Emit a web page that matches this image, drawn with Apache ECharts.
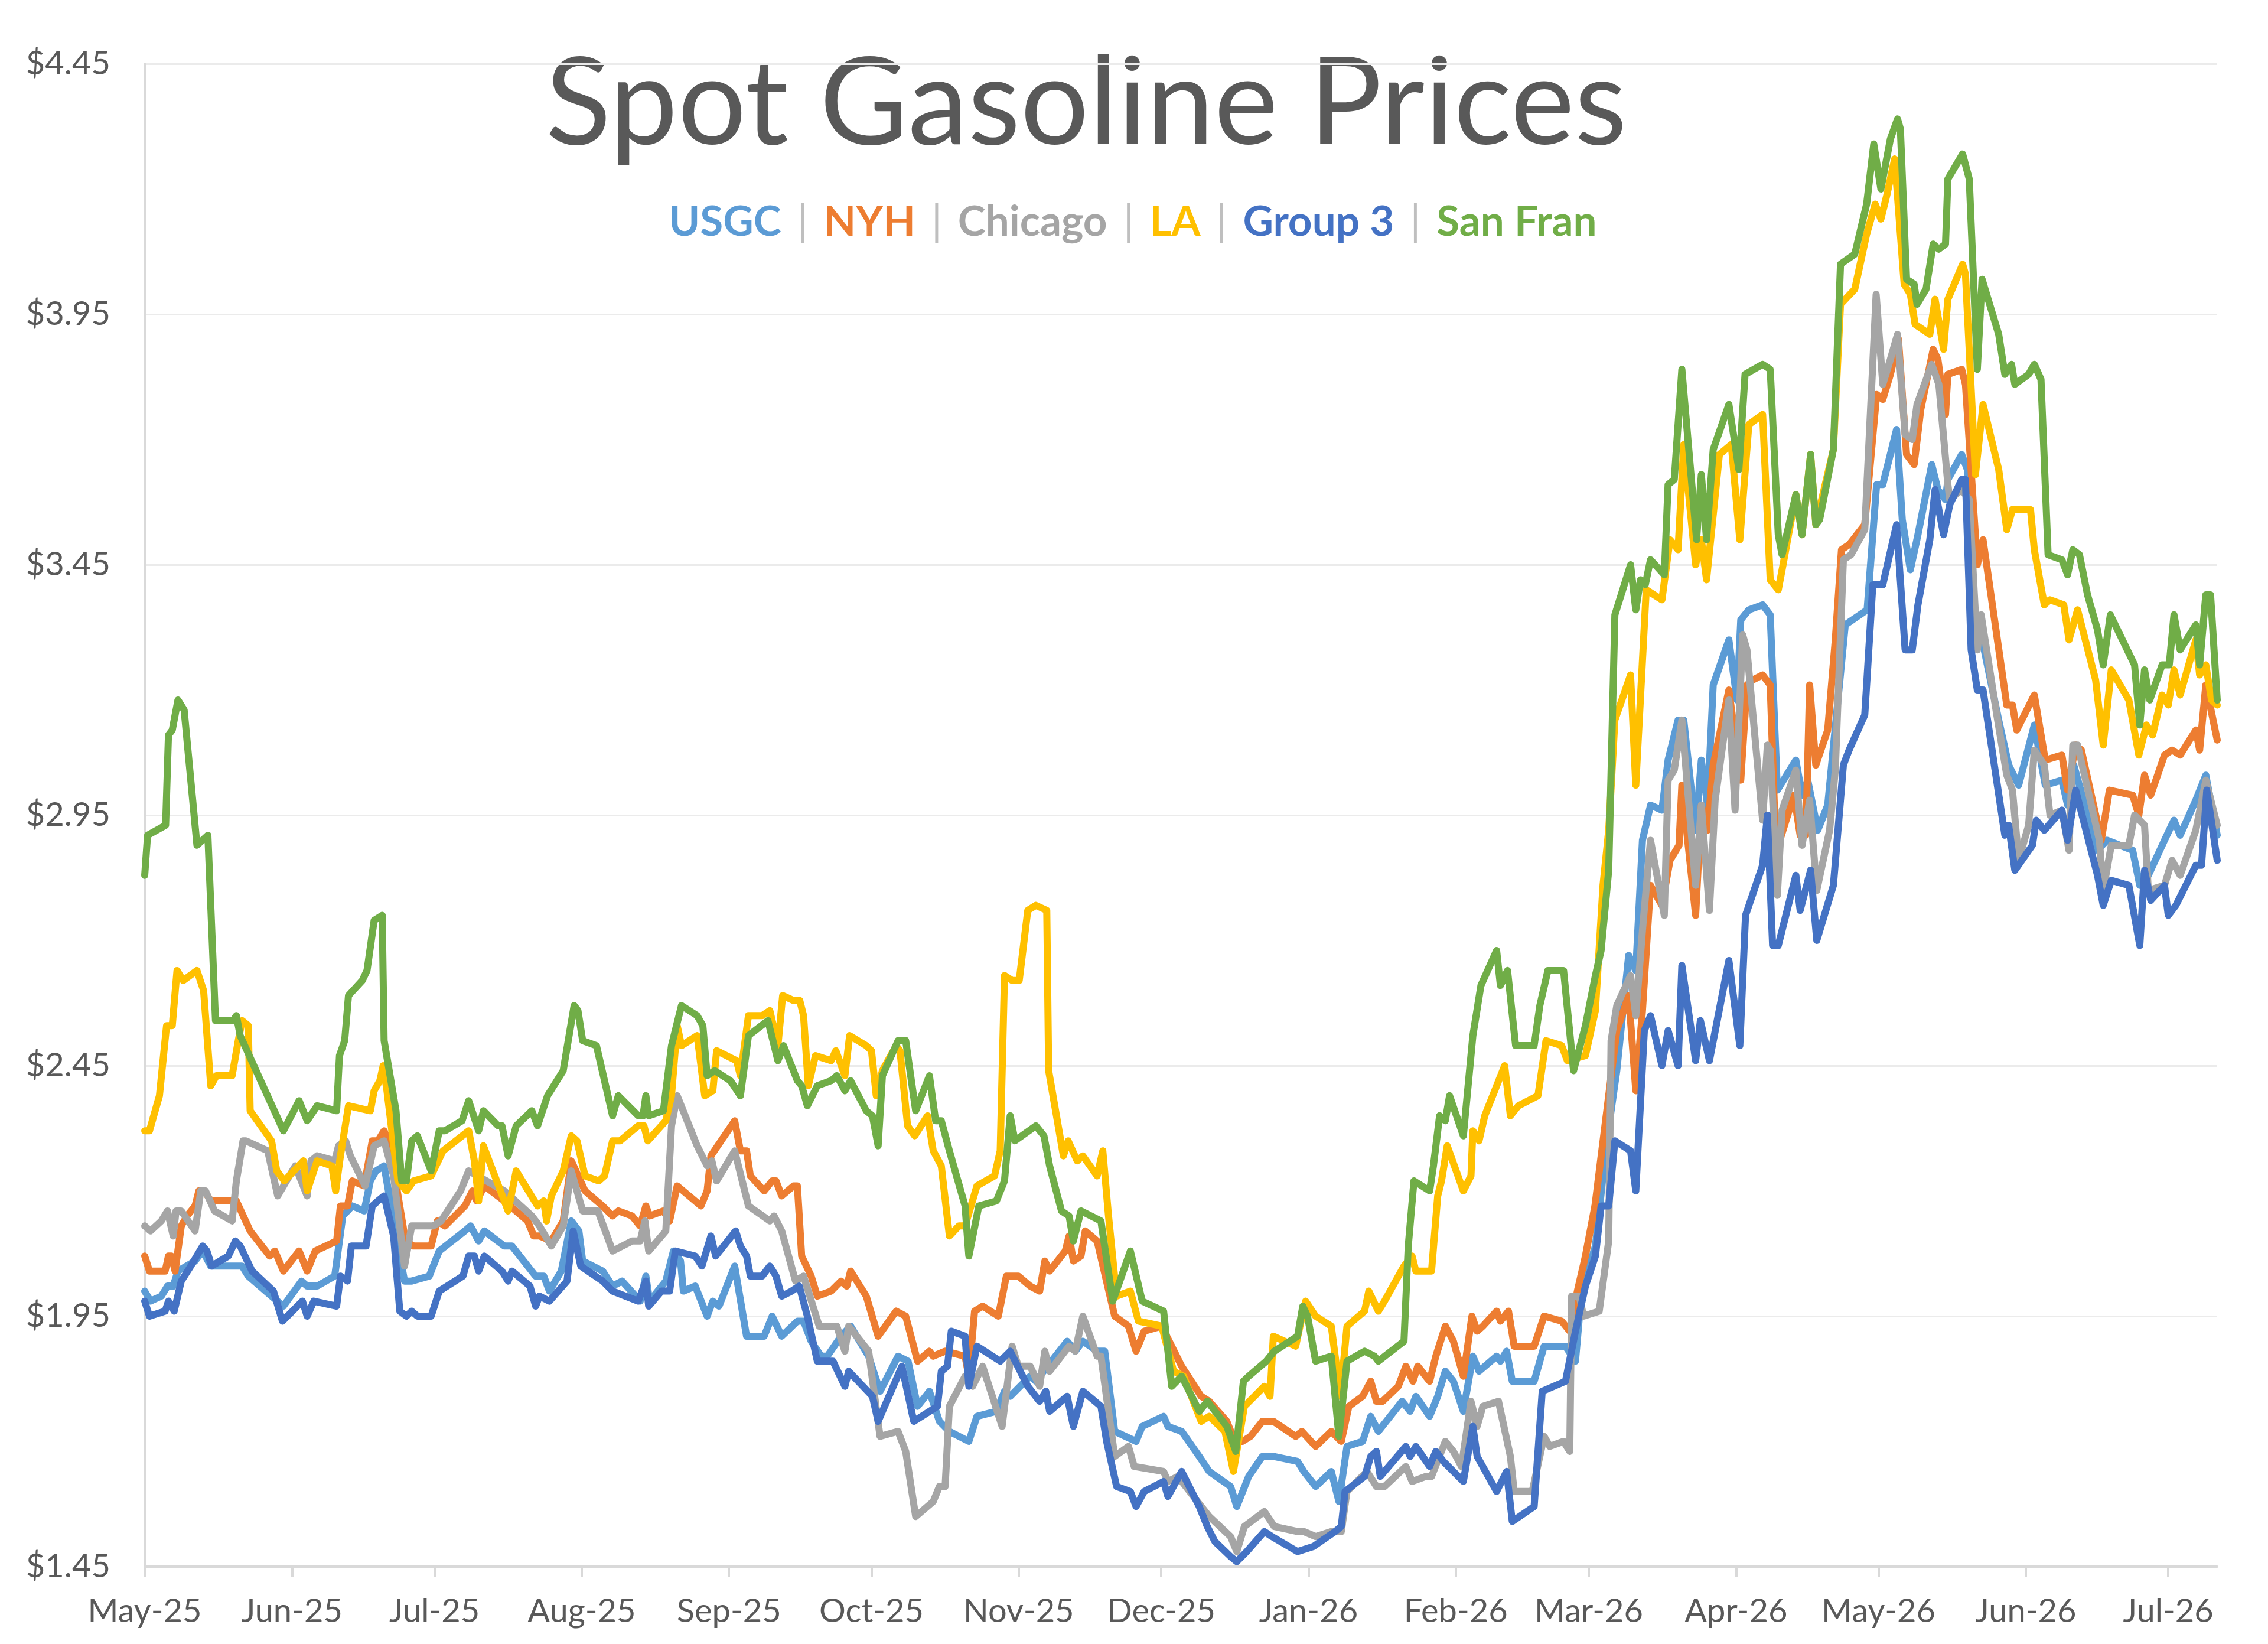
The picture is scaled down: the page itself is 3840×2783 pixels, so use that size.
<!DOCTYPE html>
<html>
<head>
    <meta charset="utf-8">
    <title>Spot Gasoline Prices</title>
    <script src="https://cdn.jsdelivr.net/npm/echarts@6/dist/echarts.min.js"></script>
    <style>
        html, body { margin: 0; padding: 0; background: #fff; }
        #main { width: 3840px; height: 2783px; }
    </style>
</head>
<body>
<div id="main"></div>
<script type="text/javascript">
    // x = days counted from 1 May 2025, y = $/gal
    var monthLabels = ['May-25', 'Jun-25', 'Jul-25', 'Aug-25', 'Sep-25', 'Oct-25', 'Nov-25', 'Dec-25',
        'Jan-26', 'Feb-26', 'Mar-26', 'Apr-26', 'May-26', 'Jun-26', 'Jul-26'];
    var yTicks = [1.45, 1.95, 2.45, 2.95, 3.45, 3.95, 4.45];
    var lastDay = 436.3;

    var usgc = [[0,2.00],[1.2,1.98],[3.5,1.99],[4.8,2.01],[6,2.01],[7,2.04],[10.6,2.06],[12.2,2.08],[13.9,2.05],[20.5,2.05],[21.8,2.03],[26.7,1.99],[29.2,1.97],[33,2.02],[34.2,2.01],[36.3,2.01],[40,2.03],[41.7,2.15],[43.7,2.17],
        [46.2,2.16],[47.5,2.22],[48.7,2.24],[50.4,2.25],[52.4,2.14],[54.7,2.02],[56.2,2.02],[59.9,2.03],[62,2.08],[67.4,2.12],[68.6,2.13],[70.3,2.10],[71.5,2.12],[75.7,2.09],[77.3,2.09],[82.3,2.03],[84,2.03],[85.2,2.00],[87.7,2.04],[89.8,2.14],
        [91.4,2.12],[92.2,2.06],[96.4,2.04],[98.5,2.01],[100.5,2.02],[104.3,1.98],[105.5,2.03],[106.3,1.98],[109.7,2.02],[111.3,2.08],[112.8,2.06],[113.4,2.00],[115.9,2.01],[118.4,1.95],[119.6,1.98],[120.9,1.97],[124.2,2.05],[126.7,1.91],[130.4,1.91],[132.1,1.95],[134.1,1.91],[137.4,1.94],
        [138.7,1.94],[140.3,1.90],[142.4,1.87],[143.7,1.87],[146.6,1.91],[148.6,1.93],[152.4,1.87],[154.8,1.80],[158.6,1.87],[160.7,1.86],[162.7,1.77],[165.2,1.80],[167.3,1.74],[169.4,1.72],[173.5,1.70],[175.2,1.75],[179.3,1.76],[181,1.80],
        [182.2,1.79],[186.4,1.83],[187.6,1.82],[194.2,1.90],[195.9,1.88],[197.5,1.90],[200.5,1.88],[202.1,1.88],[204.2,1.72],[208.7,1.70],[210,1.73],[214.5,1.75],[215.4,1.73],[218.3,1.72],[222,1.67],[224.1,1.64],[228.6,1.61],
        [229.9,1.57],[232.4,1.63],[235.3,1.67],[237.6,1.67],[242.7,1.66],[244,1.64],[246.5,1.61],[249.8,1.64],[251.4,1.58],[253.1,1.69],[256.4,1.70],[258.1,1.75],[259.7,1.72],[264.7,1.78],[266.4,1.76],[267.6,1.79],[270.5,1.75],[272.2,1.79],[273.8,1.84],
        [275.5,1.82],[277.6,1.76],[279.6,1.87],[280.9,1.84],[284.6,1.87],[285.4,1.86],[286.7,1.88],[287.9,1.82],[292.5,1.82],[294.6,1.89],[299.1,1.89],[301.2,1.86],[302.5,2.00],[305.4,2.09],[307.8,2.30],
        [309.9,2.44],[312.4,2.67],[313.9,2.64],[315.3,2.90],[317,2.97],[319.4,2.96],[320.7,3.06],[322.8,3.14],[324,3.14],[326.5,2.92],[327.7,3.06],[329,2.97],[330.2,3.21],[333.5,3.30],[335.2,3.18],[336,3.34],[337.7,3.36],
        [340.6,3.37],[342.2,3.35],[343.7,3.00],[347.6,3.06],[348.9,2.99],[350.1,3.02],[352.2,2.92],[354.3,2.97],[358,3.33],[362.6,3.36],[364.6,3.61],[365.9,3.61],
        [368.8,3.72],[370,3.54],[371.7,3.44],[373.3,3.51],[376.2,3.65],[377.5,3.60],[379.1,3.58],[379.6,3.62],[382.5,3.67],[383.7,3.64],[384.9,3.36],[386.6,3.31],[390.3,3.14],[392.4,3.05],[394.5,3.01],[397.8,3.13],[400.1,3.01],
        [403.6,3.02],[404.8,2.97],[406.1,3.05],[411.1,2.88],[413.1,2.90],[418.5,2.88],[420,2.81],[421.8,2.83],[425.2,2.90],[427.2,2.94],[428.5,2.91],[431.8,2.98],[433.9,3.03],[436.3,2.91]];

    var nyh = [[0,2.07],[1,2.04],[4.3,2.04],[5,2.07],[5.6,2.07],[6.4,2.04],[7.7,2.13],[8.9,2.15],[10.6,2.17],[11.4,2.20],[12.6,2.20],[13.9,2.18],[19.3,2.18],[22.2,2.12],[26.3,2.07],[27.4,2.08],[29.2,2.04],[32.5,2.08],[34.2,2.04],[35.9,2.08],[40.4,2.10],[41.2,2.17],[42.7,2.17],[43.7,2.22],
        [46.2,2.21],[47.9,2.30],[49.1,2.30],[50.4,2.32],[51.6,2.29],[54.9,2.10],[56.6,2.09],[60.3,2.09],[61.6,2.14],[63.2,2.13],[67.4,2.17],[69,2.20],[69.9,2.18],[71.5,2.21],[75.7,2.18],[80.6,2.14],[81.9,2.11],[83.1,2.11],[85.6,2.10],[88.1,2.14],[89.8,2.26],
        [92.7,2.20],[96.4,2.17],[98.5,2.15],[99.7,2.16],[102.6,2.15],[104.3,2.13],[105.5,2.17],[106.3,2.15],[109.2,2.16],[110.5,2.14],[112.1,2.21],[117.1,2.17],[118.4,2.20],[119.2,2.27],[124.2,2.34],[125.4,2.28],[126.7,2.28],[127.5,2.23],[130.4,2.20],[132.1,2.22],[132.9,2.22],[134.1,2.19],[136.6,2.21],[137.4,2.21],
        [138.3,2.07],[140.3,2.03],[141.6,1.99],[144.5,2.00],[146.6,2.02],[147.8,2.01],[148.6,2.04],[151.9,1.99],[154.4,1.91],[158.2,1.96],[160.2,1.95],[162.7,1.86],[165.2,1.88],[166,1.87],[168.5,1.88],[172.7,1.87],[173.5,1.83],[174.7,1.96],[176.4,1.97],[179.7,1.95],[181.4,2.03],
        [183.9,2.03],[186.4,2.01],[188.4,2.00],[189.5,2.06],[190.5,2.04],[193.8,2.08],[194.6,2.11],[195.5,2.06],[197.1,2.07],[198,2.12],[200.5,2.10],[204.2,1.95],[207.1,1.93],[208.7,1.88],[210.4,1.92],[214.1,1.93],[218.3,1.85],[222.4,1.79],[224.1,1.78],[227.8,1.74],[229.5,1.70],
        [231.1,1.70],[232.8,1.71],[235.3,1.74],[237.6,1.74],[242.3,1.71],[243.6,1.72],[246.5,1.69],[249.8,1.72],[251.9,1.70],[253.5,1.77],[256.4,1.79],[258.1,1.82],[259.3,1.78],[260.6,1.78],[263.9,1.81],[265.5,1.85],[267,1.82],[268,1.85],[270.5,1.82],[271.8,1.87],[273.8,1.93],
        [275.5,1.90],[277.6,1.83],[279.4,1.95],[280.5,1.92],[281.7,1.93],[284.6,1.96],[285.4,1.94],[287.1,1.96],[288.3,1.89],[292.5,1.89],[294.6,1.95],[298.3,1.94],[300,1.92],[301.6,2.00],[303.3,2.07],[305.3,2.17],
        [307.8,2.36],[309.9,2.52],[312.4,2.59],[313.9,2.40],[315.3,2.56],[317,2.81],[319.4,2.77],[321.1,2.86],[323,2.89],[323.6,3.01],[326.5,2.75],[327.7,2.97],[329,2.92],[330.2,3.05],[333.5,3.20],[336,3.02],
        [337.3,3.21],[338.5,3.22],[340.6,3.23],[342.2,3.21],[343.1,2.96],[343.9,2.89],[347.2,2.99],[348.5,2.91],[349.7,2.91],[350.5,3.21],[351.8,3.05],[354.3,3.12],[355.9,3.30],[357.2,3.48],[358.8,3.49],[362.1,3.53],[364.6,3.79],[365.9,3.78],
        [367.5,3.83],[369.2,3.90],[370.9,3.67],[372.5,3.65],[373.9,3.76],[376.5,3.88],[377.5,3.86],[379.1,3.75],[379.6,3.83],[382.5,3.84],[383.3,3.81],[385.8,3.45],[387,3.50],[392,3.17],[393.2,3.17],[394.1,3.12],[397.8,3.19],[400.1,3.06],
        [403.6,3.07],[404.8,3.00],[406.5,3.09],[407.7,3.08],[411.9,2.90],[413.6,3.00],[418.5,2.99],[419.8,2.95],[421,3.03],[422.3,2.99],[425.2,3.07],[426.8,3.08],[428.5,3.07],[431.8,3.12],[432.6,3.08],[433.9,3.21],[436.3,3.10]];

    var chicago = [[0,2.13],[1.2,2.12],[3.5,2.14],[4.8,2.16],[6,2.11],[6.6,2.16],[7.7,2.16],[10.6,2.12],[11.8,2.20],[12.8,2.20],[14.7,2.16],[18.4,2.14],[19.3,2.22],[20.7,2.30],[21.3,2.30],[25.9,2.28],[28,2.19],[31.7,2.25],[34.2,2.19],[35,2.26],[36.3,2.27],[40,2.26],[40.8,2.29],[42.3,2.30],[43.3,2.27],
        [46.4,2.21],[48.3,2.29],[50.4,2.30],[52.4,2.23],[54.7,2.05],[56.2,2.13],[60.7,2.13],[62.4,2.14],[66.5,2.20],[68.2,2.24],[75.7,2.20],[81.5,2.15],[83.1,2.13],[85.6,2.09],[88.1,2.13],[89.8,2.24],
        [92.2,2.16],[95.4,2.16],[98.5,2.08],[102.6,2.10],[104.3,2.10],[105.3,2.14],[106.1,2.08],[109.7,2.12],[110.9,2.33],[112.1,2.39],[114.2,2.34],[116.3,2.29],[118.4,2.25],[119.4,2.26],[120.4,2.22],[124.2,2.28],[127.1,2.17],[131.6,2.14],[132.5,2.15],[134.1,2.12],[137,2.02],
        [138.7,2.03],[142,1.93],[145.7,1.93],[147.4,1.88],[148.2,1.93],[152.4,1.88],[154.8,1.71],[158.6,1.72],[160.2,1.68],[162.3,1.55],[166,1.58],[167.3,1.61],[168.5,1.61],[169.4,1.77],[172.7,1.83],[174.3,1.81],[176.4,1.85],[180.5,1.73],[182.6,1.89],
        [183.9,1.85],[186.4,1.85],[188.4,1.81],[189.5,1.88],[190.5,1.84],[194.6,1.89],[195.9,1.88],[197.5,1.95],[200.5,1.87],[201.3,1.87],[204.2,1.67],[207.1,1.69],[208.3,1.65],[214.5,1.64],[215.4,1.62],[217.5,1.63],[224.1,1.55],[228.6,1.51],
        [229.9,1.48],[231.5,1.53],[235.7,1.56],[237.8,1.53],[242.7,1.52],[244,1.52],[246.5,1.51],[249.8,1.52],[251.9,1.52],[253.1,1.60],[257.3,1.64],[259.3,1.61],[261,1.61],[265.5,1.65],[266.8,1.62],[269.7,1.63],[270.9,1.63],[273.8,1.70],
        [275.5,1.68],[277.2,1.65],[279.2,1.78],[280.5,1.73],[281.7,1.77],[285,1.78],[287.5,1.67],[288.3,1.60],[292.1,1.60],[294.6,1.71],[295.8,1.69],[298.7,1.70],[300,1.68],[300.4,1.99],[302,1.99],[302.9,1.95],[306.2,1.96],
        [308.2,2.10],[308.7,2.50],[309.9,2.57],[312.8,2.63],[313.9,2.55],[315.3,2.72],[317,2.90],[319.9,2.75],[320.7,3.02],[322,3.04],[323.6,3.14],[326.5,2.81],[327.7,2.97],[329.4,2.76],[330.6,2.98],[333.5,3.18],[334.8,2.96],[336.4,3.31],
        [337.3,3.28],[340.6,2.94],[341.6,3.09],[342.2,3.08],[343.7,2.79],[344.7,2.96],[347.6,3.04],[348.9,2.89],[350.5,2.98],[352,2.80],[354.7,2.92],[355.9,3.04],[357.6,3.46],[359.2,3.47],[362.1,3.52],[364.5,3.99],[365.9,3.81],
        [367.5,3.86],[369,3.91],[370.6,3.71],[372.1,3.70],[373.1,3.77],[376.2,3.85],[377.7,3.81],[379.6,3.61],[380,3.58],[382.5,3.60],[384.1,3.58],[385.8,3.28],[386.6,3.35],[389.9,3.15],[392,3.03],[393.2,3.00],[394.5,2.86],[396.6,2.93],[397.8,3.08],[399.9,3.05],
        [401.1,2.95],[403.6,2.96],[405.1,2.88],[405.9,3.09],[406.9,3.09],[411.5,2.90],[412.3,2.80],[414,2.89],[417.7,2.89],[418.9,2.95],[421,2.93],[421.8,2.80],[425.2,2.81],[426.8,2.86],[428.5,2.83],[431.8,2.92],[433.9,3.02],[436.3,2.93]];

    var la = [[0,2.32],[1,2.32],[3.1,2.39],[4.6,2.53],[5.8,2.53],[6.8,2.64],[8.1,2.62],[11,2.64],[12.4,2.60],[13.9,2.41],[15.1,2.43],[18.4,2.43],[19.7,2.50],[20.5,2.54],[21.8,2.53],[22.2,2.36],[26.7,2.30],[27.8,2.24],[29.4,2.22],[33.4,2.26],[34.2,2.20],[36.3,2.26],[39.4,2.25],[40.2,2.20],[41.2,2.27],[42.9,2.37],
        [47.5,2.36],[48.3,2.40],[49.5,2.42],[50.2,2.45],[51,2.40],[53.3,2.22],[55.1,2.20],[56.6,2.22],[60.3,2.23],[62.8,2.28],[68.2,2.32],[69.4,2.26],[70.3,2.18],[71.3,2.29],[76.5,2.16],[78.2,2.24],[82.7,2.17],[84,2.18],[84.6,2.14],[85.6,2.19],[88.1,2.24],[89.8,2.31],
        [91,2.30],[92.7,2.23],[95.6,2.22],[96.8,2.23],[98.5,2.30],[100.1,2.30],[102.6,2.32],[103.9,2.33],[105.1,2.33],[105.9,2.30],[109.7,2.34],[110.9,2.39],[112.1,2.53],[113,2.49],[116.3,2.51],[117.9,2.39],[119.6,2.40],[120.4,2.48],[124.6,2.46],[125.4,2.43],[127.1,2.55],[130,2.55],[131.6,2.56],[133.3,2.49],[134.3,2.59],[136.6,2.58],
        [137.9,2.58],[138.7,2.55],[139.7,2.41],[141.2,2.47],[144.5,2.46],[145.5,2.48],[147.4,2.43],[148.4,2.51],[151.9,2.49],[153,2.48],[154,2.39],[155.3,2.44],[158.2,2.49],[159,2.48],[160.6,2.33],[162.1,2.31],[164.8,2.35],[166,2.28],[167.7,2.25],[169.4,2.11],[171.4,2.13],[172.7,2.13],[175.2,2.21],[178.9,2.23],[180.1,2.28],
        [181,2.63],[182.6,2.62],[184.1,2.62],[185.9,2.76],[187.6,2.77],[189.9,2.76],[190.3,2.44],[193.4,2.27],[194.4,2.30],[196.3,2.26],[197.5,2.27],[200.5,2.23],[201.7,2.28],[202.9,2.15],[204.6,1.99],[207.5,2.00],[209.2,1.94],[214.1,1.93],[216.6,1.84],[218.7,1.83],[222.4,1.74],[224.1,1.75],[227.4,1.72],[229.2,1.64],
        [231.5,1.77],[233.6,1.79],[235.7,1.81],[236.9,1.79],[237.6,1.91],[242.3,1.89],[243.2,1.93],[244.4,1.98],[246.5,1.95],[249.8,1.93],[251.7,1.79],[253.1,1.93],[256.8,1.96],[257.7,2.00],[259.7,1.96],[261,1.98],[265.1,2.05],[266.8,2.07],[267.6,2.04],[270.9,2.04],[272.2,2.19],[273,2.22],[274.2,2.29],
        [277.6,2.20],[279.2,2.23],[279.6,2.32],[280.9,2.30],[282.1,2.35],[286.3,2.45],[287.5,2.35],[289.2,2.37],[293.3,2.39],[295,2.50],[298.3,2.49],[299.5,2.46],[303.3,2.47],[305.4,2.56],[307,2.81],
        [308.2,2.92],[309.5,3.14],[312.8,3.23],[313.9,3.01],[316.1,3.40],[319.4,3.38],[321.1,3.50],[322.8,3.48],[324,3.69],[326.5,3.45],[327.7,3.50],[328.8,3.42],[331.5,3.67],[334,3.69],[335.8,3.50],[337.7,3.73],
        [340.6,3.75],[342.2,3.42],[343.9,3.40],[344.9,3.45],[347.6,3.59],[348.9,3.51],[350.7,3.67],[351.8,3.53],[355.5,3.68],[357,3.97],[360,4.00],[362.5,4.11],[364.3,4.17],[365.5,4.14],[366.8,4.19],
        [368.4,4.26],[370.4,4.01],[371.7,3.99],[372.7,3.93],[375.8,3.91],[376.9,3.98],[378.7,3.88],[379.6,3.98],[382.7,4.05],[383.3,4.03],[385.4,3.63],[387,3.77],[390.3,3.64],[392,3.52],[393.2,3.56],[397,3.56],[397.8,3.48],[399.9,3.37],
        [401.1,3.38],[404,3.37],[405.1,3.30],[406.9,3.36],[410.7,3.22],[412.3,3.09],[414,3.24],[417.7,3.18],[419.8,3.07],[421.4,3.13],[422.7,3.11],[424.7,3.19],[426,3.17],[427.2,3.24],[428.5,3.19],[431.8,3.30],[432.6,3.23],[433.9,3.25],[435.1,3.18],[436.3,3.17]];

    var group3 = [[0,1.98],[1,1.95],[4.3,1.96],[5,1.98],[6.2,1.96],[7.7,2.02],[9.7,2.05],[12.2,2.09],[13.1,2.08],[14.1,2.05],[17.6,2.07],[19.1,2.10],[20.1,2.09],[22.6,2.04],[27.1,2.00],[29,1.94],[33.2,1.98],[34.2,1.95],[35.6,1.98],[40.4,1.97],[41.2,2.03],[42.7,2.02],[43.5,2.09],
        [46.6,2.09],[47.9,2.17],[49.1,2.18],[50.4,2.19],[52.4,2.11],[53.7,1.96],[55.1,1.95],[56.2,1.96],[57.4,1.95],[60.3,1.95],[62,2.00],[67,2.03],[68.2,2.07],[69.4,2.07],[70.3,2.04],[71.5,2.07],[75.2,2.04],[76.5,2.02],[77.3,2.04],[81.1,2.01],[82.3,1.97],[83.1,1.99],[85.2,1.98],[88.9,2.02],[90.2,2.12],
        [91.8,2.05],[96.4,2.02],[98.5,2.00],[103.9,1.98],[105.5,2.02],[106.1,1.97],[108.8,2.00],[110.5,2.00],[111.7,2.08],[115.9,2.07],[117.3,2.05],[119.2,2.11],[120.2,2.07],[124.4,2.12],[125.4,2.09],[126.7,2.07],[127.5,2.03],[130,2.03],[131.6,2.05],[132.9,2.03],[134.1,1.99],[136.2,2.00],
        [137.8,2.01],[139.5,1.95],[141.6,1.86],[144.9,1.86],[147.4,1.81],[148.2,1.84],[153.2,1.79],[154.4,1.74],[159.4,1.85],[161.9,1.74],[166.9,1.77],[167.7,1.84],[169,1.85],[169.8,1.92],[172.7,1.91],[173.5,1.81],[175.2,1.89],[180.1,1.86],[182.2,1.88],
        [185.9,1.81],[188.4,1.78],[189.7,1.80],[190.5,1.76],[194.2,1.79],[195.5,1.73],[197.5,1.80],[201.3,1.77],[202.5,1.70],[204.6,1.61],[207.5,1.60],[208.7,1.57],[210.4,1.60],[214.5,1.62],[215.4,1.59],[218.3,1.64],[222,1.57],[223.7,1.53],[225.3,1.50],[228.6,1.47],[229.9,1.46],
        [232,1.48],[235.7,1.52],[237.3,1.51],[242.7,1.48],[246,1.49],[250.6,1.52],[251.9,1.53],[252.7,1.60],[256.8,1.63],[258.1,1.67],[259.3,1.68],[260.1,1.63],[265.5,1.69],[266.4,1.67],[267.6,1.69],[270.5,1.65],[271.8,1.68],[273.4,1.66],
        [277.6,1.62],[279.6,1.73],[280.5,1.67],[284.6,1.60],[286.7,1.64],[287.9,1.54],[292.5,1.57],[294.2,1.80],[299.1,1.82],[301.2,1.92],[303.3,2.01],[305.4,2.07],[306.6,2.17],
        [308.2,2.17],[309.5,2.30],[312.8,2.28],[313.9,2.20],[315.7,2.52],[317,2.55],[319.4,2.45],[320.7,2.52],[322.8,2.45],[323.6,2.65],[326.5,2.46],[327.5,2.54],[329.4,2.46],[333.5,2.66],[335.8,2.49],[337,2.75],
        [340.6,2.85],[341.6,2.95],[342.7,2.69],[343.9,2.69],[347.6,2.83],[348.5,2.76],[350.7,2.84],[352,2.70],[355.5,2.81],[357.6,3.05],[358.8,3.08],[362.1,3.15],[363.8,3.41],[365.9,3.41],[368.8,3.53],
        [370.6,3.28],[372.1,3.28],[373.3,3.37],[375.8,3.50],[376.9,3.60],[378.7,3.51],[380,3.57],[382.5,3.62],[383.3,3.62],[384.5,3.28],[385.8,3.20],[387,3.20],[391.6,2.91],[392.4,2.93],[393.7,2.84],[397.4,2.89],[398.2,2.94],[399.9,2.92],
        [403.6,2.96],[404.8,2.90],[406.5,3.00],[411.1,2.83],[412.3,2.77],[414,2.82],[417.7,2.81],[420,2.69],[421,2.84],[422.3,2.78],[425.2,2.81],[426,2.75],[427.6,2.77],[431.8,2.85],[433,2.85],[434.1,3.00],[436.3,2.86]];

    var sanFran = [[0,2.83],[0.6,2.91],[4.4,2.93],[5,3.11],[5.8,3.12],[7,3.18],[8.3,3.16],[11,2.89],[13.3,2.91],[14.9,2.54],[16,2.54],[18.6,2.54],[19.3,2.55],[20.1,2.51],[29.2,2.32],[32.5,2.38],[34.2,2.34],[36.3,2.37],[40.4,2.36],[41,2.47],[42.1,2.50],[42.9,2.59],
        [45.8,2.62],[46.8,2.64],[48.3,2.74],[50,2.75],[50.4,2.50],[52.9,2.36],[54.1,2.22],[55.1,2.22],[56.2,2.30],[57.4,2.31],[60.3,2.24],[62,2.32],[63.2,2.32],[66.8,2.34],[68.2,2.38],[70.3,2.32],[71.3,2.36],[74.4,2.33],[75.2,2.33],[76.5,2.27],[78.2,2.33],[81.5,2.36],[82.7,2.33],[84.8,2.39],[88.1,2.44],[90.4,2.57],
        [91.2,2.56],[92.2,2.50],[95.1,2.49],[98.5,2.35],[99.7,2.39],[103.9,2.35],[104.9,2.35],[105.5,2.39],[106.1,2.35],[109.2,2.36],[110.9,2.49],[113,2.57],[116.3,2.55],[117.5,2.53],[118.4,2.43],[120,2.44],[123.3,2.42],[125.4,2.39],[127.1,2.51],[131.2,2.54],[133.3,2.46],[134.5,2.49],[137.4,2.42],
        [138.3,2.41],[139.5,2.37],[141.6,2.41],[144.5,2.42],[145.7,2.43],[147.4,2.40],[148.6,2.42],[151.9,2.36],[153.2,2.35],[154.4,2.29],[155.3,2.43],[158.6,2.50],[160.2,2.50],[162.3,2.36],[165.2,2.43],[166.5,2.34],[167.7,2.34],[169.4,2.28],[172.7,2.17],[173.5,2.07],[175.6,2.17],[179.3,2.18],[181,2.22],[182.2,2.35],
        [183.2,2.30],[187.6,2.33],[189.3,2.31],[190.5,2.25],[193,2.16],[194.6,2.15],[195.5,2.10],[197.1,2.16],[201.3,2.14],[203.8,1.98],[207.5,2.08],[210,1.98],[214.5,1.96],[216.2,1.81],[218.3,1.83],[222,1.76],[223.7,1.78],[227.8,1.73],[229.7,1.68],
        [231.3,1.82],[232.4,1.83],[236.1,1.86],[237.8,1.88],[242.7,1.91],[243.8,1.97],[244.8,1.95],[246.5,1.86],[249.8,1.87],[251.4,1.71],[253.1,1.86],[256.8,1.88],[258.9,1.87],[259.7,1.86],[265.1,1.90],[266,2.09],[267.2,2.22],[270.5,2.20],[271.3,2.25],[272.6,2.35],[273.8,2.34],
        [274.7,2.39],[277.6,2.31],[279.6,2.51],[281.3,2.61],[284.6,2.68],[285.4,2.61],[286.9,2.64],[288.6,2.49],[292.5,2.49],[293.7,2.57],[295.4,2.64],[298.7,2.64],[300.8,2.44],[303.3,2.53],[305.4,2.63],
        [306.6,2.68],[308.2,2.84],[309.5,3.35],[312.8,3.45],[313.9,3.36],[314.9,3.42],[315.9,3.41],[317,3.46],[319.9,3.43],[320.7,3.61],[322,3.62],[323.6,3.84],[326.7,3.50],[327.7,3.63],[328.8,3.50],[330.2,3.68],[333.5,3.77],[335.6,3.64],[336.9,3.83],
        [340.6,3.85],[342.2,3.84],[343.9,3.51],[344.7,3.47],[347.6,3.59],[348.9,3.51],[350.7,3.67],[351.8,3.53],[352.6,3.54],[355.5,3.68],[357,4.05],[360,4.07],[362.5,4.17],[364,4.29],[365.5,4.20],[367.5,4.30],
        [369,4.34],[369.6,4.32],[370.9,4.02],[372.5,4.01],[373.1,3.97],[375,4.00],[376.5,4.09],[377.7,4.08],[379.1,4.09],[379.6,4.22],[382.7,4.27],[384.1,4.22],[385.8,3.84],[386.8,4.02],[390.3,3.91],[391.6,3.83],[393,3.85],[393.7,3.81],[396.6,3.83],[397.8,3.85],[399.2,3.82],
        [400.7,3.47],[403.6,3.46],[404.8,3.43],[405.9,3.48],[407.3,3.47],[409,3.39],[411.1,3.32],[412.3,3.25],[413.8,3.35],[418.9,3.25],[420,3.13],[421,3.24],[422.1,3.18],[424.7,3.25],[426.2,3.25],[427.2,3.35],[428.5,3.28],[431.8,3.33],[432.6,3.25],[433.9,3.39],[434.9,3.39],[436.3,3.18]];

    var seriesNames = ['USGC', 'NYH', 'Chicago', 'LA', 'Group 3', 'San Fran'];
    var seriesData = [usgc, nyh, chicago, la, group3, sanFran];
    var colors = ['#5B9BD5', '#ED7D31', '#A5A5A5', '#FFC000', '#4472C4', '#70AD47'];

    // month starts as day offsets
    var monthDays = [];
    for (var i = 0; i < monthLabels.length; i++) {
        monthDays.push((Date.UTC(2025, 4 + i, 1) - Date.UTC(2025, 4, 1)) / 86400000);
    }

    var myChart = echarts.init(document.getElementById('main'));

    var series = [];
    for (var k = 0; k < seriesNames.length; k++) {
        series.push({
            name: seriesNames[k],
            type: 'line',
            data: seriesData[k],
            showSymbol: false,
            animation: false,
            color: colors[k],
            lineStyle: { width: 12, color: colors[k], join: 'round', cap: 'round' }
        });
    }

    // legend drawn as one line of coloured words
    var keys = ['usgc', 'nyh', 'chi', 'la', 'g3', 'sf'];
    var legendText = '';
    var rich = { sep: { fill: '#BFBFBF', fontSize: 71, fontFamily: 'Lato', padding: [0, 27, 0, 27] } };
    for (var j = 0; j < keys.length; j++) {
        if (j > 0) legendText += '{sep||}';
        legendText += '{' + keys[j] + '|' + seriesNames[j] + '}';
        rich[keys[j]] = { fill: colors[j], fontSize: 71, fontWeight: 'bold', fontFamily: 'Lato' };
    }

    var option = {
        backgroundColor: '#ffffff',
        animation: false,
        grid: { left: 245, right: 86, top: 108, bottom: 131 },
        xAxis: {
            type: 'value',
            min: 0,
            max: lastDay,
            axisLine: { show: true, lineStyle: { color: '#D9D9D9', width: 4 } },
            axisTick: { show: true, customValues: monthDays, length: 18, lineStyle: { color: '#D9D9D9', width: 4 } },
            axisLabel: {
                customValues: monthDays,
                fontSize: 56,
                fontFamily: 'Lato',
                color: '#595959',
                margin: 48,
                formatter: function (v) {
                    var idx = monthDays.indexOf(v);
                    return idx >= 0 ? monthLabels[idx] : '';
                }
            },
            splitLine: { show: false }
        },
        yAxis: {
            type: 'value',
            min: 1.45,
            max: 4.45,
            interval: 0.5,
            axisLine: { show: true, lineStyle: { color: '#D9D9D9', width: 4 } },
            axisTick: { show: false },
            axisLabel: {
                fontSize: 56,
                fontFamily: 'Lato',
                color: '#595959',
                margin: 58,
                formatter: function (v) { return '$' + v.toFixed(2); }
            },
            splitLine: { show: true, lineStyle: { color: '#EBEBEB', width: 3 } }
        },
        graphic: [
            {
                type: 'text',
                x: 1839,
                y: 178,
                style: {
                    text: 'Spot Gasoline Prices',
                    fill: '#595959',
                    fontSize: 205,
                    fontFamily: 'Lato',
                    textAlign: 'center',
                    textVerticalAlign: 'middle'
                }
            },
            {
                type: 'text',
                x: 1918,
                y: 376,
                style: {
                    text: legendText,
                    rich: rich,
                    textAlign: 'center',
                    textVerticalAlign: 'middle'
                }
            }
        ],
        series: series
    };

    myChart.setOption(option);
</script>
</body>
</html>
